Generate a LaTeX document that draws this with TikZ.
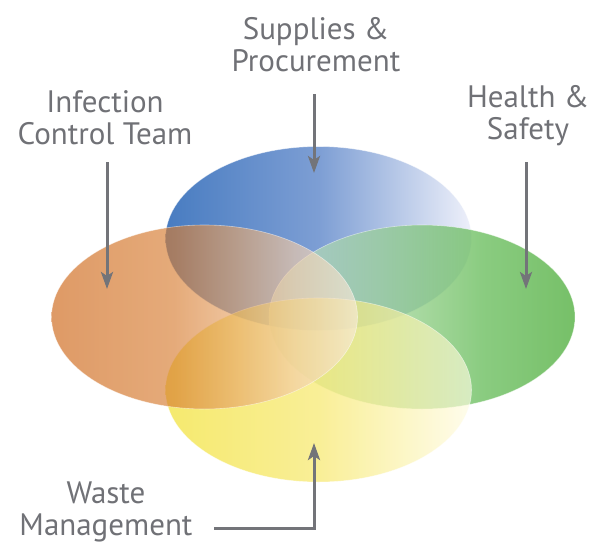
\documentclass[tikz,border=0pt]{standalone}
\usepackage{fontspec}
\setmainfont{PT Sans}
\usetikzlibrary{shapes.geometric,arrows.meta}

\definecolor{textgray}{RGB}{112,113,118}
\definecolor{arrowgray}{RGB}{115,116,121}

% horizontal fades, stops kept inside 25bp..75bp
\pgfdeclarehorizontalshading{supfade}{100bp}{%
  rgb(0bp)=(0.282,0.486,0.757); rgb(25bp)=(0.282,0.486,0.757);
  rgb(50bp)=(0.490,0.620,0.831); rgb(75bp)=(0.933,0.941,0.980);
  rgb(100bp)=(0.933,0.941,0.980)}
\pgfdeclarehorizontalshading{hsfade}{100bp}{%
  rgb(0bp)=(0.843,0.933,0.831); rgb(25bp)=(0.843,0.933,0.831);
  rgb(42.5bp)=(0.588,0.816,0.549); rgb(60bp)=(0.294,0.690,0.235);
  rgb(75bp)=(0.176,0.620,0.090); rgb(100bp)=(0.176,0.620,0.090)}
\pgfdeclarehorizontalshading{wastefade}{100bp}{%
  rgb(0bp)=(0.941,0.871,0.125); rgb(25bp)=(0.941,0.871,0.125);
  rgb(50bp)=(0.965,0.902,0.373); rgb(75bp)=(0.996,0.984,0.886);
  rgb(100bp)=(0.996,0.984,0.886)}
\pgfdeclarehorizontalshading{inffade}{100bp}{%
  rgb(0bp)=(0.804,0.392,0.078); rgb(25bp)=(0.804,0.392,0.078);
  rgb(45bp)=(0.843,0.490,0.196); rgb(55bp)=(0.902,0.647,0.412);
  rgb(65bp)=(0.949,0.804,0.667); rgb(75bp)=(0.980,0.922,0.863);
  rgb(100bp)=(0.980,0.922,0.863)}

\begin{document}
\begin{tikzpicture}[x=1pt, y=-1pt,
  set/.style={ellipse, inner sep=0pt, minimum width=306pt, minimum height=184pt,
    fill opacity=0.65, draw=white, draw opacity=0.5, line width=0.6pt},
  grouplabel/.style={align=center, text=textgray, inner sep=0pt,
    font=\fontsize{31}{32}\selectfont},
  pointer/.style={draw=arrowgray, line width=3pt,
    -{Stealth[length=17pt, width=12pt, inset=4pt]}}]
\useasboundingbox (0,0) rectangle (595,544);

% the four sets
\node[set, shading=supfade, fill opacity=1] (supset)   at (318.5,238.5) {};
\node[set, shading=hsfade]                  (hsset)    at (422,317) {};
\node[set, shading=wastefade]               (wasteset) at (318.5,390) {};
\node[set, shading=inffade]                 (infset)   at (204.5,317) {};

% labels
\node[grouplabel] (supplies)  at (316,45)  {Supplies \&\\Procurement};
\node[grouplabel] (infection) at (105,118) {Infection\\Control Team};
\node[grouplabel] (health)    at (528,116) {Health \&\\Safety};
\node[grouplabel] (waste)     at (106,512) {Waste\\Management};

% arrows
\coordinate (suptail)   at (314,94);
\coordinate (suptip)    at (314,173);
\coordinate (inftail)   at (107,162);
\coordinate (inftip)    at (107,289);
\coordinate (hstail)    at (526,162);
\coordinate (hstip)     at (526,289);
\coordinate (wastetail) at (214,528);
\coordinate (wastetip)  at (314,443);
\draw[pointer] (suptail) -- (suptip);
\draw[pointer] (inftail) -- (inftip);
\draw[pointer] (hstail) -- (hstip);
\draw[pointer] (wastetail) -| (wastetip);
\end{tikzpicture}
\end{document}
